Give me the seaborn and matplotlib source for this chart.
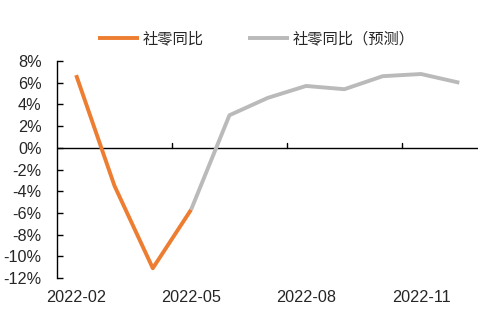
import matplotlib
matplotlib.use("Agg")
import matplotlib.pyplot as plt
import seaborn as sns
import pandas as pd
from matplotlib.ticker import FuncFormatter

months = ["2022-02", "2022-03", "2022-04", "2022-05", "2022-06", "2022-07",
          "2022-08", "2022-09", "2022-10", "2022-11", "2022-12"]
actual = [6.7, -3.5, -11.1, -5.7, None, None, None, None, None, None, None]
forecast = [None, None, None, -5.7, 3.0, 4.6, 5.7, 5.4, 6.6, 6.8, 6.0]
series_names = ["社零同比", "社零同比（预测）"]
tick_months = ["2022-02", "2022-05", "2022-08", "2022-11"]
colors = ["#ED7D31", "#BABABA"]

sns.set_style("white")
plt.rcParams["font.family"] = ["Liberation Sans", "Noto Sans CJK SC", "DejaVu Sans"]
plt.rcParams["axes.unicode_minus"] = False

df = pd.DataFrame({"month": months, "pos": range(len(months)),
                   series_names[0]: actual, series_names[1]: forecast})
long = df.melt(id_vars=["month", "pos"], value_vars=series_names,
               var_name="series", value_name="value").dropna()

fig = plt.figure(figsize=(4.97, 3.30), dpi=100)
ax = fig.add_axes([57 / 497, 1 - 278 / 330, (478.5 - 57) / 497, (278 - 61) / 330])

for name, c in zip(series_names, colors):
    sub = long[long["series"] == name]
    sns.lineplot(data=sub, x="pos", y="value", ax=ax, color=c, lw=2.8,
                 label=name, solid_capstyle="butt")

ax.set_xlim(-0.5, len(months) - 0.5)
ax.set_ylim(-12, 8)
ax.set_yticks(range(-12, 9, 2))
ax.yaxis.set_major_formatter(FuncFormatter(lambda v, p: f"{int(round(v))}%"))
ax.set_xticks([months.index(m) for m in tick_months])
ax.set_xticklabels(tick_months)
ax.tick_params(axis="x", length=0, pad=9, labelsize=11.7)
ax.tick_params(axis="y", direction="in", length=4, width=1, color="black",
               left=True, pad=11, labelsize=11.7)
ax.set_xlabel("")
ax.set_ylabel("")
for s in ["top", "right", "bottom"]:
    ax.spines[s].set_visible(False)
ax.spines["left"].set_color("black")
ax.spines["left"].set_linewidth(1)

ax.axhline(0, color="black", lw=1, zorder=1)
for x in [2.5, 5.5, 8.5]:
    ax.plot([x, x], [0, 0.45], color="black", lw=1, zorder=1)

leg = ax.legend(loc="lower center", bbox_to_anchor=(0.473, 1.0), ncol=2,
                frameon=False, handlelength=2.7,
                handletextpad=0.25, columnspacing=2.9,
                prop={"family": ["Noto Sans CJK SC", "DejaVu Sans"], "size": 11})

fig.savefig("out.png", dpi=100)
